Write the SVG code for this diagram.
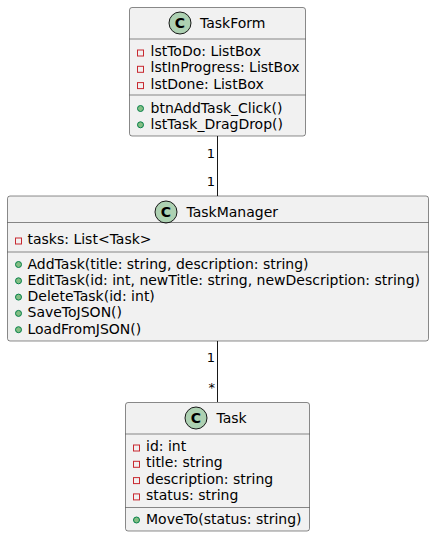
<svg xmlns="http://www.w3.org/2000/svg" width="434" height="537" viewBox="0 0 434 537">
<style>
.box{fill:#F1F1F1;stroke:#181818;stroke-width:0.5}
.sep{stroke:#181818;stroke-width:0.5}
.ci{fill:#ADD1B2;stroke:#181818;stroke-width:1}
.cl{font-family:"DejaVu Sans",sans-serif;font-size:14px;font-weight:bold;fill:#000}
.t{font-family:"DejaVu Sans",sans-serif;font-size:14px;fill:#000}
.pv{fill:none;stroke:#C82930;stroke-width:1}
.pb{fill:#84BE84;stroke:#038048;stroke-width:1}
.lbl{font-family:"DejaVu Sans",sans-serif;font-size:13px;fill:#000}
.edge{stroke:#181818;stroke-width:1;fill:none}
</style>
<g id="connectors">
<line class="edge" x1="217.5" y1="136" x2="217.5" y2="196"/>
<text class="lbl" x="215" y="157.5" text-anchor="end">1</text>
<text class="lbl" x="215" y="186" text-anchor="end">1</text>
<line class="edge" x1="217.5" y1="341" x2="217.5" y2="402"/>
<text class="lbl" x="215" y="362" text-anchor="end">1</text>
<text class="lbl" x="215" y="392" text-anchor="end">*</text>
</g>
<g id="TaskForm">
<rect class="box" x="129.5" y="7.5" width="176" height="128.5" rx="2.5"/>
<circle class="ci" cx="180" cy="23" r="11"/>
<text class="cl" x="180" y="28" text-anchor="middle">C</text>
<text class="t" x="200" y="28">TaskForm</text>
<line class="sep" x1="129.5" y1="39" x2="305.5" y2="39"/>
<rect class="pv" x="137.5" y="50" width="6" height="6"/>
<text class="t" x="150.5" y="56">lstToDo: ListBox</text>
<rect class="pv" x="137.5" y="66.3" width="6" height="6"/>
<text class="t" x="150.5" y="72.3">lstInProgress: ListBox</text>
<rect class="pv" x="137.5" y="82.6" width="6" height="6"/>
<text class="t" x="150.5" y="88.6">lstDone: ListBox</text>
<line class="sep" x1="129.5" y1="95" x2="305.5" y2="95"/>
<circle class="pb" cx="140.5" cy="108.5" r="3"/>
<text class="t" x="150.5" y="112.5">btnAddTask_Click()</text>
<circle class="pb" cx="140.5" cy="124.8" r="3"/>
<text class="t" x="150.5" y="128.8">lstTask_DragDrop()</text>
</g>
<g id="TaskManager">
<rect class="box" x="7.5" y="196" width="421" height="145" rx="2.5"/>
<circle class="ci" cx="166" cy="212" r="11"/>
<text class="cl" x="166" y="217" text-anchor="middle">C</text>
<text class="t" x="186.5" y="217">TaskManager</text>
<line class="sep" x1="7.5" y1="222.5" x2="428.5" y2="222.5"/>
<rect class="pv" x="15.5" y="238" width="6" height="6"/>
<text class="t" x="27.5" y="244">tasks: List&lt;Task&gt;</text>
<line class="sep" x1="7.5" y1="252" x2="428.5" y2="252"/>
<circle class="pb" cx="18.5" cy="264.5" r="3"/>
<text class="t" x="27.5" y="268.5">AddTask(title: string, description: string)</text>
<circle class="pb" cx="18.5" cy="280.8" r="3"/>
<text class="t" x="27.5" y="284.8">EditTask(id: int, newTitle: string, newDescription: string)</text>
<circle class="pb" cx="18.5" cy="297.1" r="3"/>
<text class="t" x="27.5" y="301.1">DeleteTask(id: int)</text>
<circle class="pb" cx="18.5" cy="313.4" r="3"/>
<text class="t" x="27.5" y="317.4">SaveToJSON()</text>
<circle class="pb" cx="18.5" cy="329.7" r="3"/>
<text class="t" x="27.5" y="333.7">LoadFromJSON()</text>
</g>
<g id="Task">
<rect class="box" x="125.5" y="402.5" width="184" height="128.5" rx="2.5"/>
<circle class="ci" cx="196" cy="418" r="11"/>
<text class="cl" x="196" y="423" text-anchor="middle">C</text>
<text class="t" x="216.5" y="423">Task</text>
<line class="sep" x1="125.5" y1="434" x2="309.5" y2="434"/>
<rect class="pv" x="133.5" y="445" width="6" height="6"/>
<text class="t" x="146" y="451">id: int</text>
<rect class="pv" x="133.5" y="461.3" width="6" height="6"/>
<text class="t" x="146" y="467.3">title: string</text>
<rect class="pv" x="133.5" y="477.6" width="6" height="6"/>
<text class="t" x="146" y="483.6">description: string</text>
<rect class="pv" x="133.5" y="493.9" width="6" height="6"/>
<text class="t" x="146" y="499.9">status: string</text>
<line class="sep" x1="125.5" y1="507.5" x2="309.5" y2="507.5"/>
<circle class="pb" cx="136.5" cy="520" r="3"/>
<text class="t" x="146" y="524">MoveTo(status: string)</text>
</g>
</svg>
